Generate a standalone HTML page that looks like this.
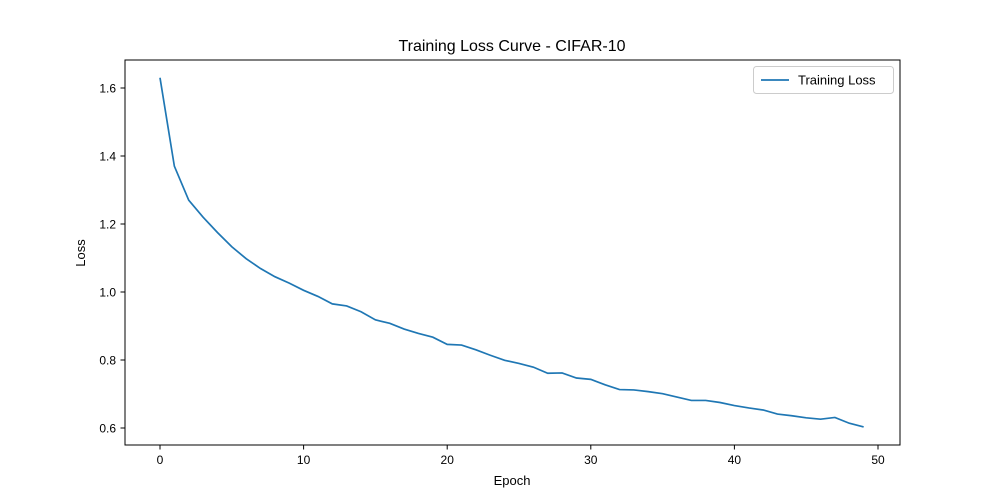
<!DOCTYPE html>
<html><head><meta charset="utf-8"><style>
body{margin:0;background:#fff;}
svg{display:block;font-family:"Liberation Sans","DejaVu Sans",sans-serif;}
</style></head><body>
<svg id="chart" width="1000" height="500">
<rect width="1000" height="500" fill="#fff"/>
<text x="512" y="51" text-anchor="middle" font-size="16">Training Loss Curve - CIFAR-10</text>
<text x="512" y="485" text-anchor="middle" font-size="13">Epoch</text>
<text x="85" y="253" text-anchor="middle" font-size="13" transform="rotate(-90 85 253)">Loss</text>
<g id="ticks"></g>
<polyline id="line" fill="none" stroke="#1f77b4" stroke-width="1.7"/>
<rect x="125" y="60" width="775" height="385" fill="none" stroke="#000" stroke-width="1"/>
<g>
<rect x="753.5" y="66.5" width="140" height="27" rx="3" fill="#fff" stroke="#ccc"/>
<line x1="761" y1="80" x2="789" y2="80" stroke="#1f77b4" stroke-width="1.7"/>
<text x="798" y="84.5" font-size="13">Training Loss</text>
</g>
</svg>
<script>
const epochs=[...Array(50).keys()];
const loss=[1.63,1.37,1.27,1.22,1.175,1.133,1.098,1.069,1.045,1.026,1.005,0.987,0.965,0.959,0.942,0.918,0.908,0.891,0.878,0.867,0.846,0.844,0.83,0.814,0.799,0.79,0.779,0.761,0.762,0.747,0.743,0.727,0.713,0.712,0.707,0.701,0.691,0.681,0.681,0.675,0.666,0.659,0.653,0.641,0.636,0.63,0.626,0.631,0.614,0.603];
const xTicks=[0,10,20,30,40,50];
const yTicks=[0.6,0.8,1.0,1.2,1.4,1.6];
const X=v=>160+(v)*14.36;
const Y=v=>428-(v-0.6)*340;
const ns="http://www.w3.org/2000/svg";
const g=document.getElementById('ticks');
function mk(t,a){const e=document.createElementNS(ns,t);for(const k in a)e.setAttribute(k,a[k]);g.appendChild(e);return e;}
xTicks.forEach(t=>{
 const l=mk('line',{x1:X(t),x2:X(t),y1:445,y2:449.5,stroke:'#000'});
 
 
 const s=mk('text',{x:X(t),y:464,'text-anchor':'middle','font-size':12});s.textContent=t;
 
 
});
yTicks.forEach(t=>{
 const l=mk('line',{x1:120.5,x2:125,y1:Y(t),y2:Y(t),stroke:'#000'});
 
 
 const s=mk('text',{x:116,y:Y(t)+4.5,'text-anchor':'end','font-size':12});s.textContent=t.toFixed(1);
 
 
});
document.getElementById('line').setAttribute('points',epochs.map((e,i)=>X(e)+','+Y(loss[i])).join(' '));
</script>
</body></html>
